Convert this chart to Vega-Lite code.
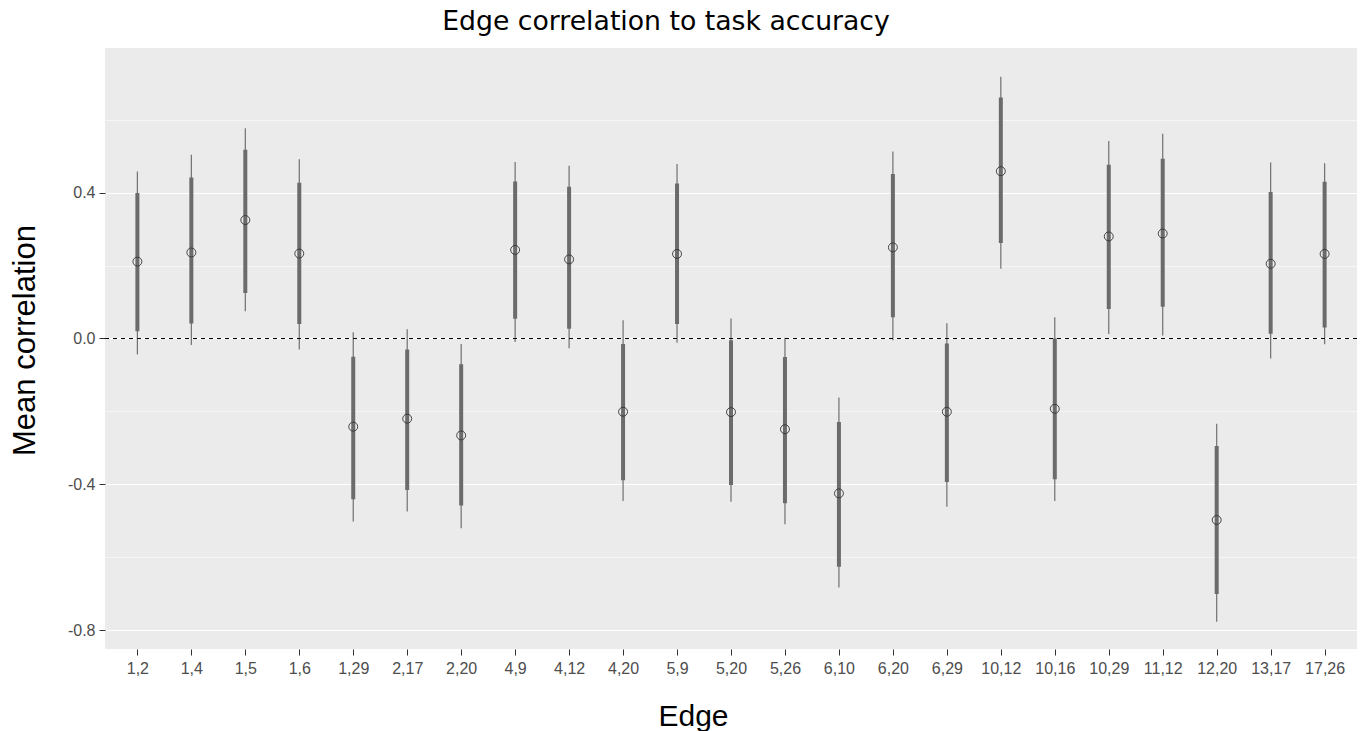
{
  "$schema": "https://vega.github.io/schema/vega-lite/v6.json",
  "autosize": "none",
  "width": 1252,
  "height": 601,
  "padding": {"left": 105, "top": 48, "right": 10, "bottom": 82},
  "background": "white",
  "title": {
    "text": "Edge correlation to task accuracy",
    "font": "DejaVu Sans",
    "fontSize": 26.7,
    "fontWeight": "normal",
    "color": "#000000",
    "anchor": "middle",
    "dx": -65,
    "offset": 12
  },
  "config": {
    "view": {"fill": "#EBEBEB", "stroke": null},
    "axis": {
      "labelFont": "Liberation Sans",
      "labelColor": "#4D4D4D",
      "titleFont": "Liberation Sans",
      "titleFontWeight": "normal",
      "titleColor": "#000000",
      "domain": false,
      "tickColor": "#333333",
      "tickSize": 6,
      "tickWidth": 1,
      "gridColor": "#FFFFFF"
    }
  },
  "data": {
    "values": [
      {"edge": "1,2", "mean": 0.211, "lo": 0.020, "hi": 0.399, "lo2": -0.044, "hi2": 0.458},
      {"edge": "1,4", "mean": 0.236, "lo": 0.041, "hi": 0.442, "lo2": -0.018, "hi2": 0.504},
      {"edge": "1,5", "mean": 0.325, "lo": 0.125, "hi": 0.518, "lo2": 0.075, "hi2": 0.577},
      {"edge": "1,6", "mean": 0.233, "lo": 0.040, "hi": 0.427, "lo2": -0.030, "hi2": 0.492},
      {"edge": "1,29", "mean": -0.242, "lo": -0.441, "hi": -0.050, "lo2": -0.502, "hi2": 0.017},
      {"edge": "2,17", "mean": -0.220, "lo": -0.416, "hi": -0.030, "lo2": -0.475, "hi2": 0.025},
      {"edge": "2,20", "mean": -0.266, "lo": -0.458, "hi": -0.071, "lo2": -0.521, "hi2": -0.015},
      {"edge": "4,9", "mean": 0.243, "lo": 0.054, "hi": 0.431, "lo2": -0.010, "hi2": 0.484},
      {"edge": "4,12", "mean": 0.217, "lo": 0.027, "hi": 0.416, "lo2": -0.027, "hi2": 0.474},
      {"edge": "4,20", "mean": -0.201, "lo": -0.389, "hi": -0.015, "lo2": -0.446, "hi2": 0.050},
      {"edge": "5,9", "mean": 0.232, "lo": 0.040, "hi": 0.425, "lo2": -0.012, "hi2": 0.479},
      {"edge": "5,20", "mean": -0.202, "lo": -0.402, "hi": -0.005, "lo2": -0.448, "hi2": 0.055},
      {"edge": "5,26", "mean": -0.249, "lo": -0.452, "hi": -0.051, "lo2": -0.510, "hi2": 0.002},
      {"edge": "6,10", "mean": -0.425, "lo": -0.626, "hi": -0.229, "lo2": -0.683, "hi2": -0.162},
      {"edge": "6,20", "mean": 0.250, "lo": 0.058, "hi": 0.451, "lo2": -0.005, "hi2": 0.513},
      {"edge": "6,29", "mean": -0.201, "lo": -0.394, "hi": -0.014, "lo2": -0.462, "hi2": 0.042},
      {"edge": "10,12", "mean": 0.459, "lo": 0.262, "hi": 0.661, "lo2": 0.191, "hi2": 0.718},
      {"edge": "10,16", "mean": -0.193, "lo": -0.386, "hi": 0.000, "lo2": -0.446, "hi2": 0.058},
      {"edge": "10,29", "mean": 0.280, "lo": 0.081, "hi": 0.477, "lo2": 0.012, "hi2": 0.542},
      {"edge": "11,12", "mean": 0.288, "lo": 0.087, "hi": 0.493, "lo2": 0.008, "hi2": 0.562},
      {"edge": "12,20", "mean": -0.498, "lo": -0.701, "hi": -0.295, "lo2": -0.777, "hi2": -0.234},
      {"edge": "13,17", "mean": 0.205, "lo": 0.013, "hi": 0.402, "lo2": -0.055, "hi2": 0.483},
      {"edge": "17,26", "mean": 0.232, "lo": 0.030, "hi": 0.430, "lo2": -0.016, "hi2": 0.481}
    ]
  },
  "encoding": {
    "x": {
      "field": "edge",
      "type": "nominal",
      "sort": null,
      "scale": {"type": "point", "padding": 0.6},
      "axis": {
        "title": "Edge",
        "titleFontSize": 30,
        "labelFontSize": 16,
        "labelAngle": 0,
        "labelPadding": 5,
        "gridWidth": 1.1,
        "titleX": 588,
        "titleY": 76,
        "titleBaseline": "alphabetic",
        "titleAnchor": null
      }
    }
  },
  "layer": [
    {
      "mark": {"type": "rule", "color": "#707070", "strokeWidth": 1.2},
      "encoding": {
        "y": {
          "field": "lo2",
          "type": "quantitative",
          "scale": {"domain": [-0.852, 0.797], "nice": false, "zero": false},
          "axis": {
            "title": "Mean correlation",
            "titleFontSize": 31,
            "labelFontSize": 16,
            "values": [-0.8, -0.6, -0.4, -0.2, 0, 0.2, 0.4, 0.6],
            "labelExpr": "abs(round(datum.value*10)) % 4 == 2 ? '' : replace(format(datum.value, '.1f'), '\u2212', '-')",
            "tickOpacity": {"condition": {"test": "abs(round(datum.value*10)) % 4 == 2", "value": 0}, "value": 1},
            "gridWidth": {"condition": {"test": "abs(round(datum.value*10)) % 4 == 2", "value": 0.55}, "value": 1.1},
            "labelPadding": 4,
            "titleX": -71,
            "titleY": 292,
            "titleAngle": -90,
            "titleBaseline": "alphabetic",
            "titleAnchor": null
          }
        },
        "y2": {"field": "hi2"}
      }
    },
    {
      "mark": {"type": "rule", "color": "#6B6B6B", "strokeWidth": 4},
      "encoding": {
        "y": {"field": "lo", "type": "quantitative"},
        "y2": {"field": "hi"}
      }
    },
    {
      "mark": {"type": "rule", "color": "#000000", "strokeWidth": 1.1, "strokeDash": [4, 4]},
      "encoding": {"x": {"value": 0}, "x2": {"value": 1252}, "y": {"datum": 0}}
    },
    {
      "mark": {"type": "point", "shape": "circle", "filled": false, "stroke": "#333333", "strokeWidth": 0.9, "size": 80, "opacity": 1},
      "encoding": {
        "y": {"field": "mean", "type": "quantitative"}
      }
    }
  ]
}
